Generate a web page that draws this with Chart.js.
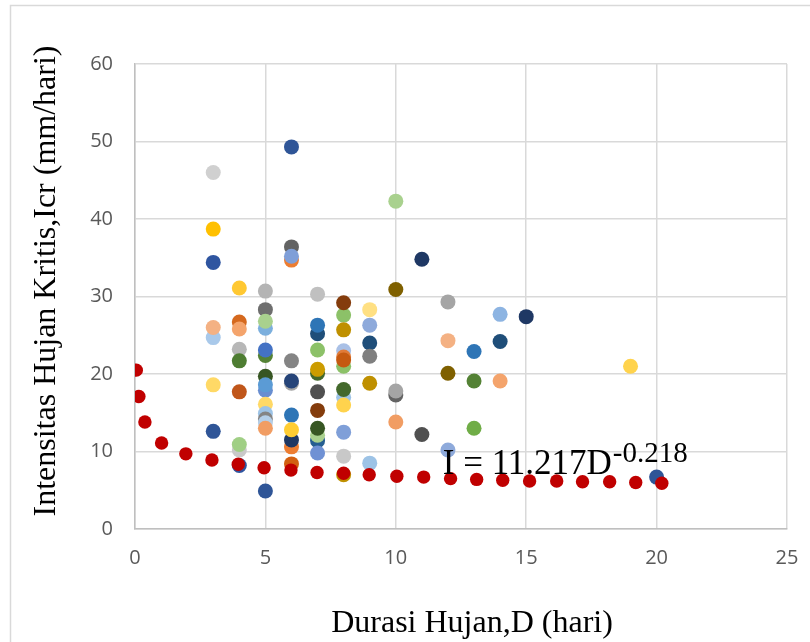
<!DOCTYPE html>
<html>
<head>
<meta charset="utf-8">
<title>Intensitas Hujan Kritis</title>
<script src="https://cdn.jsdelivr.net/npm/chart.js@4"></script>
<style>
  html, body { margin: 0; padding: 0; background: #fff; }
  canvas { display: block; }
</style>
</head>
<body>
<canvas id="grafik" width="810" height="642"></canvas>
<script>
// titik pengamatan (durasi hari, intensitas mm/hari)
const durasi = [
  3, 3, 3, 3, 3, 3, 3,
  4, 4, 4, 4, 4, 4, 4, 4, 4,
  5, 5, 5, 5, 5, 5, 5, 5, 5, 5, 5, 5, 5, 5, 5,
  6, 6, 6, 6, 6, 6, 6, 6, 6, 6, 6, 6,
  7, 7, 7, 7, 7, 7, 7, 7, 7, 7, 7, 7,
  8, 8, 8, 8, 8, 8, 8, 8, 8, 8, 8, 8, 8,
  9, 9, 9, 9, 9, 9,
  10, 10, 10, 10, 10,
  11, 11,
  12, 12, 12, 12,
  13, 13, 13,
  14, 14, 14,
  15, 19, 20
];
const intensitas = [
  46.0, 38.7, 34.4, 24.7, 26.0, 18.6, 12.6,
  31.1, 26.7, 25.8, 23.2, 21.7, 17.7, 10.2, 10.9, 8.2,
  30.7, 28.3, 25.9, 26.8, 22.4, 23.1, 19.7, 17.9, 18.6, 16.1, 14.9, 14.2, 13.7, 13.0, 4.9,
  49.3, 34.7, 36.4, 35.2, 21.7, 18.8, 19.1, 14.7, 10.6, 11.5, 12.8, 8.4,
  30.3, 25.2, 26.3, 23.1, 20.1, 20.6, 17.7, 15.3, 11.4, 12.1, 13.0, 9.8,
  27.6, 29.2, 25.7, 23.0, 21.0, 22.2, 21.8, 17.0, 18.0, 16.0, 12.5, 9.4, 7.0,
  28.3, 26.3, 24.0, 22.3, 18.8, 8.5,
  42.3, 30.9, 17.3, 17.8, 13.8,
  34.8, 12.2,
  29.3, 24.3, 20.1, 10.2,
  22.9, 19.1, 13.0,
  27.7, 24.2, 19.1,
  27.4, 21.0, 6.7
];
const warnaTitik = [
  "#d0d0d0", "#ffc000", "#2f55a0", "#a9c9ea", "#f4b183", "#ffd966", "#2f5597",
  "#ffc832", "#d5691e", "#f4a46c", "#b7b7b7", "#4e7d32", "#c0561a", "#c9c9c9", "#a0cf85", "#2f55a0",
  "#b4b4b4", "#6e6e6e", "#7cafdd", "#a9d18e", "#548235", "#4472c4", "#375623", "#698ed0", "#5b9bd5",
  "#ffd966", "#9dc3e6", "#848484", "#b4cfe9", "#f19d63", "#2f5597",
  "#2f5597", "#ed7d31", "#636363", "#7f9fd8", "#848484", "#a5a5a5", "#264478", "#2e75b6", "#ed7d31",
  "#1f3864", "#ffcd33", "#d26012",
  "#c0c0c0", "#1f4e79", "#2e75b6", "#8cc168", "#43682b", "#cc9c00", "#505050", "#843c0c", "#255e91",
  "#a9d18e", "#375623", "#6f91d4",
  "#8cc168", "#843c0c", "#bf9000", "#a9c0e6", "#8cc168", "#e07b39", "#c55a11", "#9dc3e6", "#43682b",
  "#ffd34d", "#7f9fd8", "#c8c8c8", "#bf9000",
  "#ffe083", "#8eaadb", "#1f4e79", "#7f7f7f", "#bf9000", "#9dc3e6",
  "#a9d18e", "#7f6000", "#636363", "#a5a5a5", "#f19d63",
  "#1f3864", "#505050",
  "#a5a5a5", "#f4b183", "#7f6000", "#8eaadb",
  "#2e75b6", "#548235", "#70ad47",
  "#8db4e2", "#1f4e79", "#f4a46c",
  "#1f3864", "#ffd34d", "#2f5597"
];

// kurva I = 11.217 D^-0.218 (titik merah)
const durasiKurva = [0.05, 0.15, 0.38, 1.02, 1.95, 2.95, 3.96, 4.95, 5.98, 6.98, 8.0, 8.98,
  10.04, 11.07, 12.1, 13.1, 14.1, 15.13, 16.17, 17.16, 18.2, 19.2, 20.2];
const intensitasKurva = [20.5, 17.1, 13.8, 11.1, 9.7, 8.9, 8.35, 7.9, 7.6, 7.3, 7.2, 7.0,
  6.8, 6.7, 6.5, 6.4, 6.3, 6.2, 6.2, 6.1, 6.1, 6.0, 5.9];

const xTicks = [0, 5, 10, 15, 20, 25];
const yTicks = [0, 10, 20, 30, 40, 50, 60];

const judulX = "Durasi Hujan,D (hari)";
const judulY = "Intensitas Hujan Kritis,Icr (mm/hari)";
const persamaan = "I = 11.217D";
const pangkat = "-0.218";

const serif = "'Liberation Serif', 'Times New Roman', serif";
const tickFont = { family: "'Open Sans', 'Noto Sans', sans-serif", size: 20 };

// frame, axis titles and the fitted equation
const hiasan = {
  id: "hiasan",
  beforeDraw(chart) {
    const ctx = chart.ctx;
    ctx.save();
    ctx.fillStyle = "#fff";
    ctx.fillRect(0, 0, chart.width, chart.height);
    ctx.strokeStyle = "#d9d9d9";
    ctx.lineWidth = 1.5;
    ctx.strokeRect(10.5, 5.5, chart.width + 20, chart.height + 20);
    ctx.restore();
  },
  afterDraw(chart) {
    const ctx = chart.ctx;
    const { x, y } = chart.scales;
    ctx.save();
    ctx.fillStyle = "#000";
    ctx.textBaseline = "alphabetic";

    ctx.font = "32px " + serif;
    ctx.textAlign = "center";
    ctx.fillText(judulX, 472, 632);

    ctx.save();
    ctx.translate(55, 281);
    ctx.rotate(-Math.PI / 2);
    ctx.fillText(judulY, 0, 0);
    ctx.restore();

    const ex = x.getPixelForValue(11.8);
    const ey = y.getPixelForValue(7.1);
    ctx.textAlign = "left";
    ctx.font = "35px " + serif;
    ctx.fillText(persamaan, ex, ey);
    const w = ctx.measureText(persamaan).width;
    ctx.font = "29px " + serif;
    ctx.fillText(pangkat, ex + w + 1, ey - 12);
    ctx.restore();
  }
};

new Chart(document.getElementById("grafik"), {
  type: "scatter",
  data: {
    datasets: [
      {
        label: "Kurva",
        data: durasiKurva.map((d, i) => ({ x: d, y: intensitasKurva[i] })),
        backgroundColor: "#c00000",
        borderWidth: 0,
        pointRadius: 6.7,
        clip: 0
      },
      {
        label: "Pengamatan",
        data: durasi.map((d, i) => ({ x: d, y: intensitas[i] })),
        backgroundColor: warnaTitik,
        borderWidth: 0,
        pointRadius: 7.5,
        clip: 0
      }
    ]
  },
  options: {
    responsive: false,
    animation: false,
    layout: { padding: { top: 64, right: 23, left: 0, bottom: 0 } },
    plugins: { legend: { display: false }, tooltip: { enabled: false } },
    scales: {
      x: {
        type: "linear",
        min: xTicks[0],
        max: xTicks[xTicks.length - 1],
        afterBuildTicks: s => { s.ticks = xTicks.map(v => ({ value: v })); },
        afterFit: s => { s.height = 113; s.paddingLeft = 0; s.paddingRight = 0; },
        ticks: { font: tickFont, color: "#595959", padding: 17 },
        grid: { color: "#d9d9d9", lineWidth: 1.5, drawTicks: false },
        border: { color: "#bfbfbf", width: 1.5 }
      },
      y: {
        min: yTicks[0],
        max: yTicks[yTicks.length - 1],
        afterBuildTicks: s => { s.ticks = yTicks.map(v => ({ value: v })); },
        afterFit: s => { s.width = 135; s.paddingTop = 0; s.paddingBottom = 0; },
        ticks: { font: tickFont, color: "#595959", padding: 22 },
        grid: { color: "#d9d9d9", lineWidth: 1.5, drawTicks: false },
        border: { color: "#bfbfbf", width: 1.5 }
      }
    }
  },
  plugins: [hiasan]
});
</script>
</body>
</html>
